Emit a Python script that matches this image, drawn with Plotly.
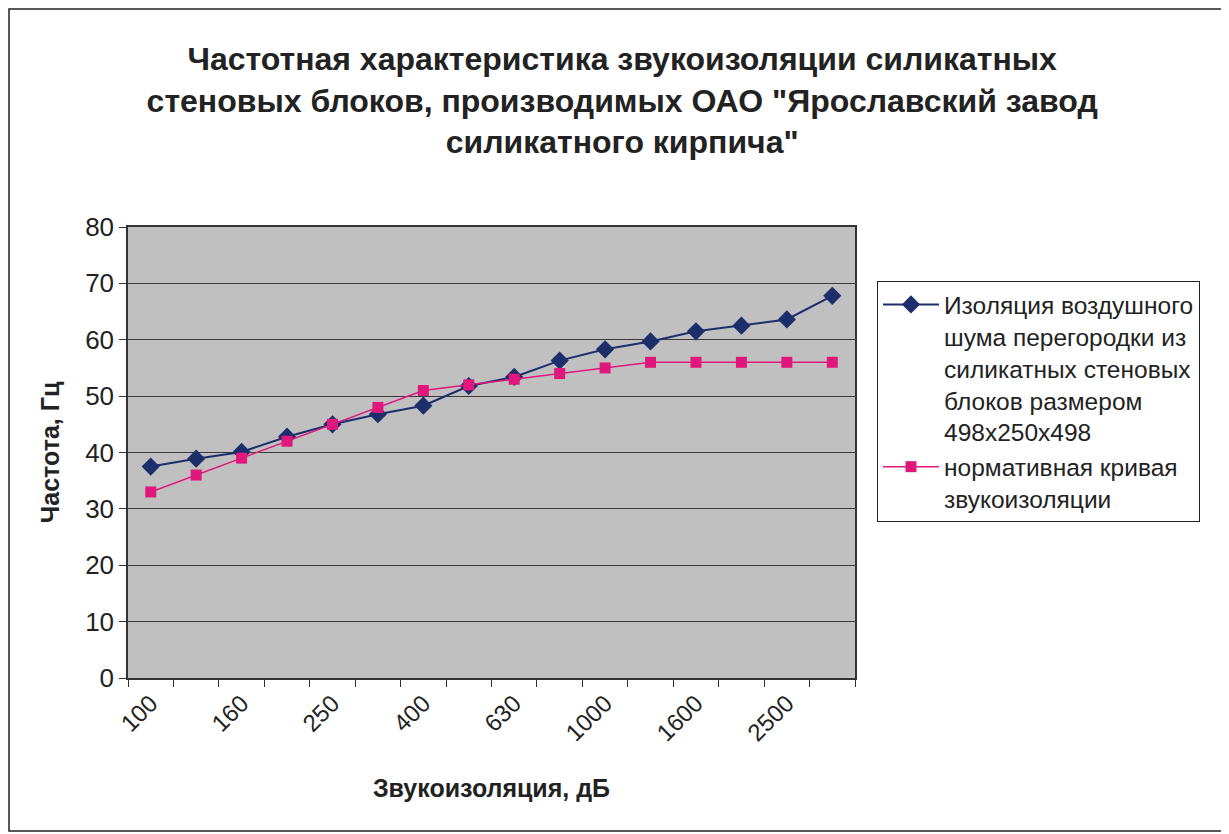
import plotly.graph_objects as go

categories = ["100", "125", "160", "200", "250", "315", "400", "500",
              "630", "800", "1000", "1250", "1600", "2000", "2500", "3150"]
insulation = [37.5, 38.9, 40.1, 42.8, 45.0, 46.8, 48.3, 51.8,
              53.4, 56.3, 58.3, 59.7, 61.5, 62.5, 63.6, 67.8]
normative = [33, 36, 39, 42, 45, 48, 51, 52, 53, 54, 55, 56, 56, 56, 56, 56]
tick_labels = ["100", "", "160", "", "250", "", "400", "", "630", "",
               "1000", "", "1600", "", "2500", ""]

name1 = "Изоляция воздушного<br>шума перегородки из<br>силикатных стеновых<br>блоков размером<br>498x250x498"
name2 = "нормативная кривая<br>звукоизоляции"

# page body has an 8px margin, so the figure is drawn from (8, 8)
OFF = 8
W, H = 1229 - OFF, 834 - OFF
L, T = 128 - OFF, 227 - OFF
R = W - (855 - OFF)
B = H - (678 - OFF)

fig = go.Figure()
fig.add_trace(go.Scatter(
    x=categories, y=insulation, name=name1, mode="lines+markers",
    line=dict(color="#1c2f6b", width=2),
    marker=dict(symbol="diamond", size=14, color="#1c2f6b"),
))
fig.add_trace(go.Scatter(
    x=categories, y=normative, name=name2, mode="lines+markers",
    line=dict(color="#e0187c", width=1.5),
    marker=dict(symbol="square", size=11, color="#e0187c"),
))

pw = W - L - R
ph = H - T - B
def px(x):
    return (x - OFF - L) / pw
def py(y):
    return (H - B - (y - OFF)) / ph

fig.add_shape(type="rect", xref="paper", yref="paper",
              x0=px(9), x1=px(1227), y0=py(831), y1=py(9),
              line=dict(color="#222222", width=1.5), layer="below")

fig.update_layout(
    width=W, height=H,
    margin=dict(l=L, r=R, t=T, b=B),
    paper_bgcolor="white",
    plot_bgcolor="#c0c0c0",
    font=dict(family="Liberation Sans, Arial, sans-serif", size=20, color="#222222"),
    title=dict(
        text="Частотная характеристика звукоизоляции силикатных<br>стеновых блоков, производимых ОАО \"Ярославский завод<br>силикатного кирпича\"",
        x=0.503, xanchor="center", y=1 - (70 - OFF) / H, yanchor="middle", yref="container",
        font=dict(family="Liberation Sans Narrow, Arial Narrow, sans-serif", size=32, color="#222222", weight="bold"),
    ),
    showlegend=True,
    legend=dict(
        x=px(877), y=py(281), xanchor="left", yanchor="top",
        bordercolor="#222222", borderwidth=1, bgcolor="white",
        font=dict(size=24.5, color="#222222"),
        itemwidth=56, tracegroupgap=4, valign="top",
    ),
    xaxis=dict(
        type="category",
        tickvals=categories, ticktext=tick_labels,
        tickangle=-45, tickson="boundaries",
        ticks="outside", ticklen=7, tickcolor="#333333",
        showgrid=False,
        showline=True, linecolor="#333333", linewidth=1.5, mirror=True,
        tickfont=dict(size=24),
        title=dict(text="<b>Звукоизоляция, дБ</b>", font=dict(size=25), standoff=34),
        range=[-0.5, 15.5],
    ),
    yaxis=dict(
        range=[0, 80], dtick=10,
        ticks="outside", ticklen=7, tickcolor="#333333",
        showgrid=True, gridcolor="#3a3a3a", gridwidth=1,
        showline=True, linecolor="#333333", linewidth=1.5, mirror=True,
        zeroline=False,
        tickfont=dict(size=26),
        title=dict(text="<b>Частота, Гц</b>", font=dict(size=25), standoff=18),
    ),
)

fig.write_html("out.html")
